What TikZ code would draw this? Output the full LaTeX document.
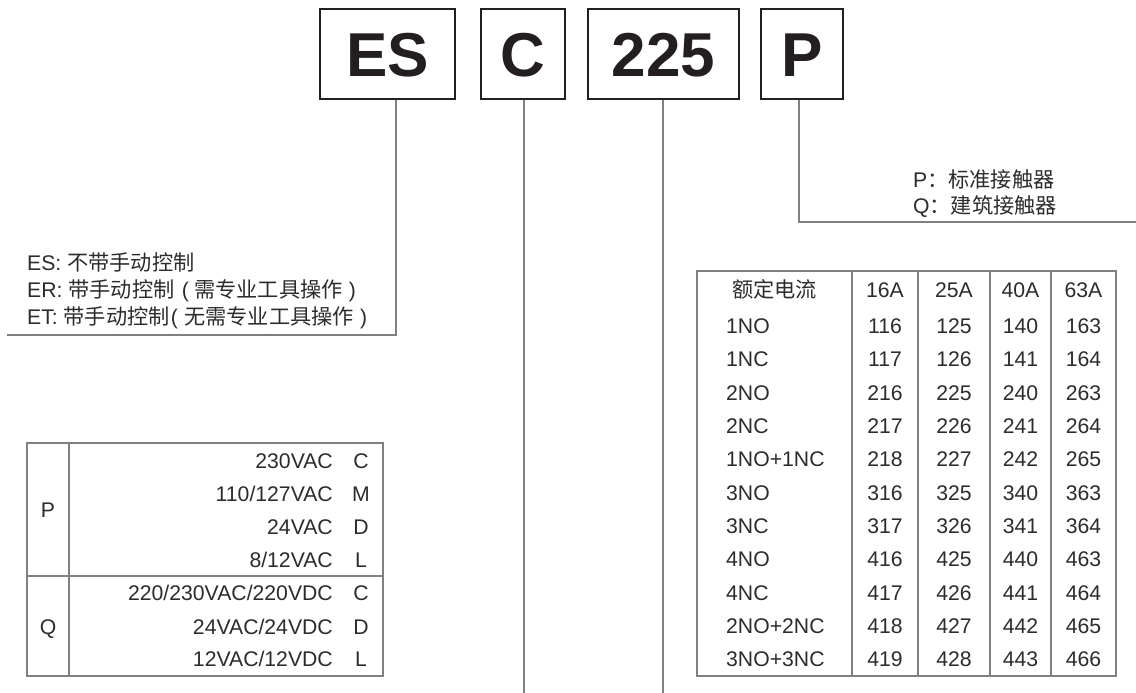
\documentclass[tikz,border=0pt]{standalone}
\usepackage{fontspec}
\setmainfont{Liberation Sans}
\newfontfamily\cjk{Noto Sans CJK SC}
\usetikzlibrary{positioning}
\definecolor{cBoxDraw}{RGB}{35, 31, 32}
\definecolor{cLink}{RGB}{128, 128, 131}
\definecolor{cText}{RGB}{45, 43, 44}
\tikzset{
    codeBox/.style={
        draw=cBoxDraw, line width=2.2pt,
        inner sep=0pt, minimum height=90pt,
        font=\fontsize{62}{62}\selectfont\bfseries,
        text=cBoxDraw, text height=44.5pt, text depth=0pt
    },
    link/.style={draw=cLink, line width=2pt},
    tableRule/.style={draw=cLink, line width=2pt},
    cellText/.style={
        inner sep=0pt,
        font=\fontsize{21.2}{25}\selectfont,
        text=cText, text height=15.2pt, text depth=0pt
    }
}
\newcommand{\zh}[1]{{\cjk #1}}
\newcommand{\lpar}{\hspace{0.35em}(\hspace{0.25em}}
\newcommand{\rpar}{\hspace{0.3em})}

\begin{document}
\begin{tikzpicture}[x=1pt, y=-1pt]
    \useasboundingbox (0,0) rectangle (1136,693);

    % model code boxes
    \node [codeBox, minimum width=135pt] (es) at (387.5,54) {ES};
    \node [codeBox, minimum width=84pt] (ac) at (523,54) {C};
    \node [codeBox, minimum width=151pt] (rating) at (663.5,54) {225};
    \node [codeBox, minimum width=82pt] (kind) at (802,54) {P};

    % leader lines
    \coordinate (esKnee) at (396,335);
    \coordinate (esEnd) at (7,335);
    \coordinate (acEnd) at (524,693);
    \coordinate (ratingEnd) at (663,693);
    \coordinate (kindKnee) at (799,222);
    \coordinate (kindEnd) at (1136,222);
    \draw [link] (es.south -| esKnee) -- (esKnee) -- (esEnd);
    \draw [link] (ac.south -| acEnd) -- (acEnd);
    \draw [link] (rating.south -| ratingEnd) -- (ratingEnd);
    \draw [link] (kind.south -| kindKnee) -- (kindKnee) -- (kindEnd);

    % control notes
    \node [cellText, anchor=west] (esNote) at (27,263) {ES: \zh{不带手动控制}};
    \node [cellText, anchor=west] (erNote) at (27,290) {ER: \zh{带手动控制}\lpar\zh{需专业工具操作}\rpar};
    \node [cellText, anchor=west] (etNote) at (27,317) {ET: \zh{带手动控制}\hspace{0.05em}(\hspace{0.3em}\zh{无需专业工具操作}\hspace{0.3em})};

    % contactor type notes
    \node [cellText, anchor=west] (pNote) at (913,180) {P\zh{：标准接触器}};
    \node [cellText, anchor=west] (qNote) at (913,206) {Q\zh{：建筑接触器}};

    % coil voltage table
    \draw [tableRule] (27,443) rectangle (383,676);
    \draw [tableRule] (69,443) -- (69,676);
    \draw [tableRule] (27,576) -- (383,576);
    \node [cellText] (pGroup) at (48,510) {P};
    \node [cellText] (qGroup) at (48,627) {Q};
    \foreach \volt/\code/\y [count=\i] in {{230VAC}/C/461, {110/127VAC}/M/494, {24VAC}/D/527, {8/12VAC}/L/560,
        {220/230VAC/220VDC}/C/593, {24VAC/24VDC}/D/627, {12VAC/12VDC}/L/659} {
        \node [cellText, anchor=east] (volt\i) at (333,\y) {\volt};
        \node [cellText] (code\i) at (361,\y) {\code};
    }

    % rating table
    \draw [tableRule] (697,271) rectangle (1116,676);
    \foreach \x in {852,918,990,1051}
        \draw [tableRule] (\x,271) -- (\x,676);
    \node [cellText] (headName) at (774.5,290) {\zh{额定电流}};
    \foreach \amp/\x [count=\j] in {16A/885, 25A/954, 40A/1020.5, 63A/1083.5}
        \node [cellText] (head\j) at (\x,290) {\amp};
    \foreach \lbl/\a/\b/\c/\d [count=\i from 0] in {1NO/116/125/140/163, 1NC/117/126/141/164,
        2NO/216/225/240/263, 2NC/217/226/241/264, 1NO+1NC/218/227/242/265,
        3NO/316/325/340/363, 3NC/317/326/341/364, 4NO/416/425/440/463,
        4NC/417/426/441/464, 2NO+2NC/418/427/442/465, 3NO+3NC/419/428/443/466} {
        \node [cellText, anchor=west] (row\i) at (726,326+33.3*\i) {\lbl};
        \node [cellText] (row\i a) at (885,326+33.3*\i) {\a};
        \node [cellText] (row\i b) at (954,326+33.3*\i) {\b};
        \node [cellText] (row\i c) at (1020.5,326+33.3*\i) {\c};
        \node [cellText] (row\i d) at (1083.5,326+33.3*\i) {\d};
    }
\end{tikzpicture}
\end{document}
